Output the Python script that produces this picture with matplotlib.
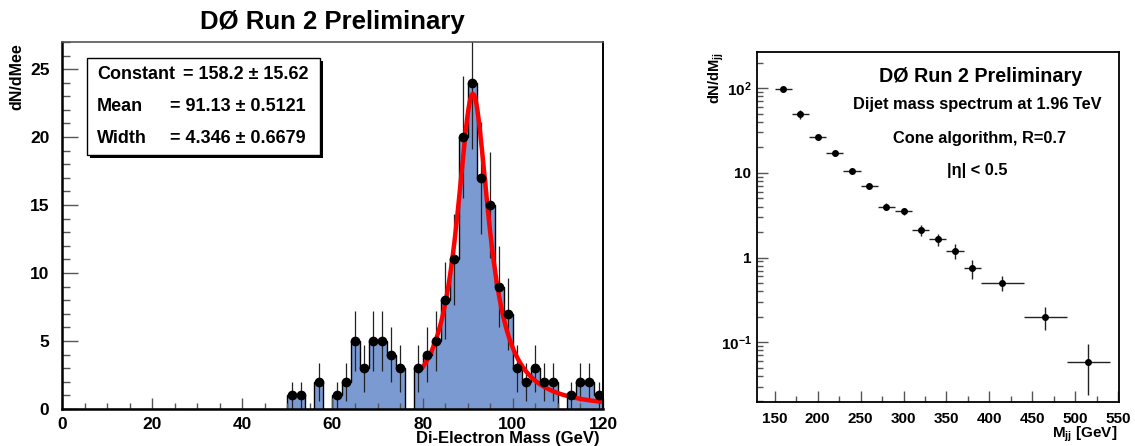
import numpy as np
import matplotlib
matplotlib.use("Agg")
import matplotlib.pyplot as plt
from matplotlib.patches import Rectangle
from matplotlib.ticker import MultipleLocator, FixedLocator, FixedFormatter, LogLocator, NullFormatter

plt.rcParams['font.family'] = ['Liberation Sans', 'DejaVu Sans']
plt.rcParams['font.weight'] = 'bold'
plt.rcParams['mathtext.fontset'] = 'custom'
plt.rcParams['mathtext.rm'] = 'Liberation Sans:bold'
plt.rcParams['mathtext.bf'] = 'Liberation Sans:bold'
plt.rcParams['mathtext.it'] = 'Liberation Sans:bold'

# Di-electron mass histogram, 2 GeV bins from 0 to 120 GeV
edges = np.arange(0, 122, 2)
counts = np.array([0] * 25 + [1, 1, 0, 2, 0, 1, 2, 5, 3, 5, 5, 4, 3, 0,
                              3, 4, 5, 8, 11, 20, 24, 17, 15, 9, 7, 3, 2, 3,
                              2, 2, 0, 1, 2, 2, 1])

# fit parameters shown in the stat box
fit_const, fit_const_err = 158.2, 15.62
fit_mean, fit_mean_err = 91.13, 0.5121
fit_width, fit_width_err = 4.346, 0.6679
fit_range = (80, 120)

# dijet mass spectrum
mjj = np.array([160, 180, 200, 220, 240, 260, 280, 300, 320, 340, 360, 380, 415, 465, 515])
mjj_err = np.array([10, 10, 10, 10, 10, 10, 10, 10, 10, 10, 10, 10, 25, 25, 25])
dndm = np.array([97, 49, 26.3, 17.2, 10.5, 7.06, 3.99, 3.51, 2.11, 1.64, 1.20, 0.744, 0.50, 0.198, 0.059])
dndm_err = np.array([4, 5.5, 1.0, 0.6, 0.4, 0.25, 0.38, 0.35, 0.3, 0.27, 0.24, 0.19, 0.1, 0.06, 0.035])

fill_col = '#7b9ad2'

fig = plt.figure(figsize=(11.35, 4.46), dpi=100)

# ---- left panel ----
ax1 = fig.add_axes([0.0546, 0.083, 0.4767, 0.823])
ax1.stairs(counts, edges, fill=True, color=fill_col, lw=0)
ax1.stairs(counts, edges, color='black', lw=1.0, baseline=0)
centers = 0.5 * (edges[:-1] + edges[1:])
nz = counts > 0
ax1.errorbar(centers[nz], counts[nz], yerr=np.sqrt(counts[nz]), fmt='o', color='black',
             ecolor='#222222', ms=6, elinewidth=0.9, capsize=0, clip_on=True)

xf = np.linspace(fit_range[0], fit_range[1], 400)
peak = 2 * fit_const / (np.pi * fit_width)
ax1.plot(xf, peak / (1 + ((xf - fit_mean) / fit_width) ** 2), color='#ff0000', lw=3.2)

ax1.set_xlim(0, 120)
ax1.set_ylim(0, 27)
ax1.xaxis.set_major_locator(MultipleLocator(20))
ax1.xaxis.set_minor_locator(MultipleLocator(5))
ax1.yaxis.set_major_locator(MultipleLocator(5))
ax1.yaxis.set_minor_locator(MultipleLocator(1))
ax1.tick_params(axis='x', which='major', direction='in', length=8, width=1.0, pad=6, labelsize=12.5, color='#555555')
ax1.tick_params(axis='x', which='minor', direction='in', length=4, width=1.0, color='#555555')
ax1.tick_params(axis='y', which='major', direction='in', length=11.5, width=1.0, pad=9, labelsize=12.5, color='#555555')
ax1.tick_params(axis='y', which='minor', direction='in', length=5.5, width=1.0, color='#555555')
for lab in ax1.get_xticklabels() + ax1.get_yticklabels():
    lab.set_fontweight('bold')
ax1.spines['left'].set_linewidth(1.8)
ax1.spines['bottom'].set_linewidth(1.8)
ax1.spines['top'].set_linewidth(1.2)
ax1.spines['top'].set_color('#555555')
ax1.spines['right'].set_linewidth(1.4)

# stat box with shadow
bx0, by0, bw, bh = 0.046, 0.692, 0.431, 0.264
ax1.add_patch(Rectangle((bx0 + 0.006, by0 - 0.009), bw, bh, transform=ax1.transAxes,
                        facecolor='black', edgecolor='none', zorder=5))
ax1.add_patch(Rectangle((bx0, by0), bw, bh, transform=ax1.transAxes,
                        facecolor='white', edgecolor='black', lw=1.0, zorder=6))
rows = [("Constant", f"= {fit_const} \u00b1 {fit_const_err}", 0.224, 0.910),
        ("Mean", f"= {fit_mean} \u00b1 {fit_mean_err}", 0.200, 0.823),
        ("Width", f"= {fit_width} \u00b1 {fit_width_err}", 0.200, 0.736)]
for name, val, xv, yv in rows:
    ax1.text(0.065, yv, name, transform=ax1.transAxes, fontsize=13, fontweight='bold',
             va='center', ha='left', zorder=7)
    ax1.text(xv, yv, val, transform=ax1.transAxes, fontsize=13, fontweight='bold',
             va='center', ha='left', zorder=7)

fig.text(332 / 1135, 1 - 22 / 446, "D\u00d8 Run 2 Preliminary", fontsize=18.5,
         fontweight='bold', ha='center', va='center')
fig.text(17 / 1135, 1 - 43 / 446, "dN/dMee", rotation=90, fontsize=11.5,
         fontweight='bold', ha='center', va='top')
fig.text(600 / 1135, 1 - 443 / 446, "Di-Electron Mass (GeV)", fontsize=12,
         fontweight='bold', ha='right', va='baseline')

# ---- right panel ----
ax2 = fig.add_axes([0.667, 0.0987, 0.319, 0.785])
ax2.errorbar(mjj, dndm, xerr=mjj_err, yerr=dndm_err, fmt='o', color='black',
             ecolor='#222222', ms=4, elinewidth=1.0, capsize=0)
ax2.set_yscale('log')
ax2.set_xlim(129.5, 551)
ax2.set_ylim(0.0197, 268)
ax2.xaxis.set_major_locator(MultipleLocator(50))
ax2.xaxis.set_minor_locator(MultipleLocator(25))
ax2.yaxis.set_major_locator(FixedLocator([0.1, 1, 10, 100]))
ax2.yaxis.set_major_formatter(FixedFormatter([r'$10^{-1}$', '1', '10', r'$10^{2}$']))
ax2.yaxis.set_minor_locator(LogLocator(base=10, subs=np.arange(2, 10)))
ax2.yaxis.set_minor_formatter(NullFormatter())
ax2.tick_params(axis='both', which='major', direction='in', length=8, width=1.0,
                labelsize=11, color='#555555')
ax2.tick_params(axis='both', which='minor', direction='in', length=4, width=1.0, color='#555555')
ax2.tick_params(axis='x', which='major', pad=7)
ax2.tick_params(axis='y', which='major', pad=4)
for lab in ax2.get_xticklabels() + ax2.get_yticklabels():
    lab.set_fontweight('bold')
for sp in ax2.spines.values():
    sp.set_linewidth(1.3)

ax2.text(981, 0, "", alpha=0)
fig.text(981 / 1135, 1 - 77 / 446, "D\u00d8 Run 2 Preliminary", fontsize=14.2,
         fontweight='bold', ha='center', va='center')
fig.text(977 / 1135, 1 - 104 / 446, "Dijet mass spectrum at 1.96 TeV", fontsize=11.8,
         fontweight='bold', ha='center', va='center')
fig.text(980 / 1135, 1 - 139 / 446, "Cone algorithm, R=0.7", fontsize=11.8,
         fontweight='bold', ha='center', va='center')
fig.text(977 / 1135, 1 - 171 / 446, "|\u03b7| < 0.5", fontsize=11.8,
         fontweight='bold', ha='center', va='center')
fig.text(716 / 1135, 1 - 52 / 446, r"dN/dM$_{jj}$", rotation=90, fontsize=10.5,
         fontweight='bold', ha='center', va='top')
fig.text(1117 / 1135, 1 - 438 / 446, r"M$_{jj}$ [GeV]", fontsize=11,
         fontweight='bold', ha='right', va='baseline')

fig.savefig("out.png", dpi=100)
